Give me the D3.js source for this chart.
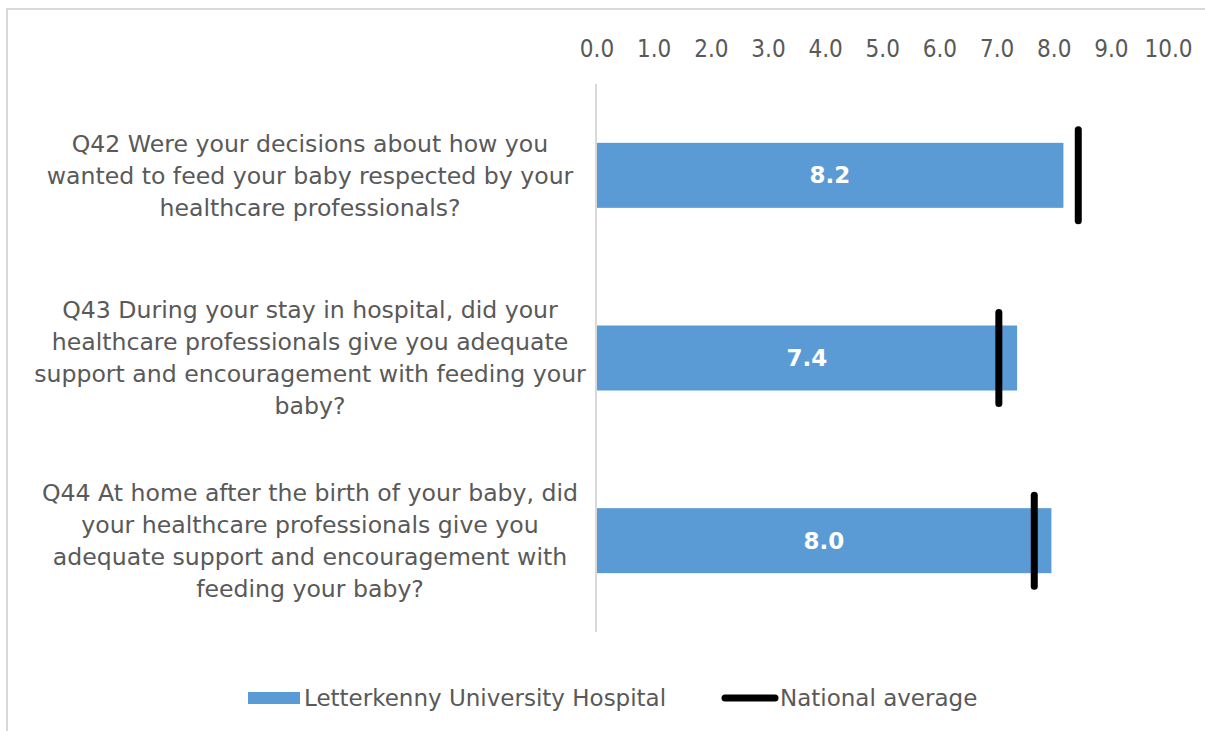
<!DOCTYPE html>
<html>
<head>
    <meta charset="utf-8" />
    <title>Feeding questions</title>
    <script type="text/javascript" src="https://cdn.jsdelivr.net/npm/d3@7"></script>
    <style>
        body { margin: 0; background: #fff; }
        text { font-family: "DejaVu Sans", sans-serif; fill: #595959; }
        .tick text { font-family: "DejaVu Sans Condensed", "DejaVu Sans", sans-serif; }
    </style>
</head>
<body>
    <svg width="1205" height="731"></svg>
    <script>

        var questions = [
            ["Q42 Were your decisions about how you", "wanted to feed your baby respected by your", "healthcare professionals?"],
            ["Q43 During your stay in hospital, did your", "healthcare professionals give you adequate", "support and encouragement with feeding your", "baby?"],
            ["Q44 At home after the birth of your baby, did", "your healthcare professionals give you", "adequate support and encouragement with", "feeding your baby?"]
        ];
        var hospital = [8.17, 7.36, 7.96];
        var national = [8.43, 7.04, 7.66];
        var ticks = [0, 1, 2, 3, 4, 5, 6, 7, 8, 9, 10];
        var seriesNames = ["Letterkenny University Hospital", "National average"];

        var svg = d3.select("svg");

        // chart border (only top and left show in the frame)
        svg.append("rect")
            .attr("x", 7).attr("y", 9)
            .attr("width", 1220).attr("height", 740)
            .attr("fill", "none")
            .attr("stroke", "#d9d9d9")
            .attr("stroke-width", 2);

        var x = d3.scaleLinear().domain([0, 10]).range([596.5, 1168]);
        var y = d3.scaleBand()
            .domain(d3.range(questions.length))
            .range([84, 632])
            .paddingInner(0.644)
            .paddingOuter(0.322);

        // top axis labels
        var xAxis = d3.axisTop(x)
            .tickValues(ticks)
            .tickFormat(d3.format(".1f"))
            .tickSize(0)
            .tickPadding(0);
        var gx = svg.append("g")
            .attr("transform", "translate(0,57)")
            .call(xAxis);
        gx.select(".domain").remove();
        gx.attr("font-family", null);
        gx.selectAll("text")
            .attr("font-size", 24)
            .attr("fill", "#595959")
            .attr("dy", 0);

        // vertical category axis line
        svg.append("line")
            .attr("x1", x(0) - 0.5).attr("x2", x(0) - 0.5)
            .attr("y1", 84).attr("y2", 632)
            .attr("stroke", "#d9d9d9")
            .attr("stroke-width", 2);

        // bars
        svg.append("g").selectAll("rect")
            .data(hospital)
            .enter()
            .append("rect")
            .attr("x", x(0) + 0.5)
            .attr("y", function (d, i) { return y(i); })
            .attr("width", function (d) { return x(d) - x(0) - 0.5; })
            .attr("height", y.bandwidth())
            .attr("fill", "#5b9bd5");

        svg.append("g").selectAll("text")
            .data(hospital)
            .enter()
            .append("text")
            .attr("x", function (d) { return (x(0) + x(d)) / 2; })
            .attr("y", function (d, i) { return y(i) + y.bandwidth() / 2; })
            .attr("dy", "0.35em")
            .attr("text-anchor", "middle")
            .attr("font-size", 23)
            .attr("font-weight", "bold")
            .style("fill", "#fff")
            .text(function (d) { return d.toFixed(1); });

        // national average markers
        svg.append("g").selectAll("line")
            .data(national)
            .enter()
            .append("line")
            .attr("x1", function (d) { return x(d); })
            .attr("x2", function (d) { return x(d); })
            .attr("y1", function (d, i) { return y(i) + y.bandwidth() / 2 - 45.5; })
            .attr("y2", function (d, i) { return y(i) + y.bandwidth() / 2 + 45.5; })
            .attr("stroke", "#000")
            .attr("stroke-width", 7)
            .attr("stroke-linecap", "round");

        // category labels
        var lineH = 32;
        var cats = svg.append("g").selectAll("text")
            .data(questions)
            .enter()
            .append("text")
            .attr("text-anchor", "middle")
            .attr("font-size", 23.6)
            .attr("y", function (d, i) { return y(i) + y.bandwidth() / 2 - (d.length - 1) * lineH / 2; });
        cats.selectAll("tspan")
            .data(function (d) { return d; })
            .enter()
            .append("tspan")
            .attr("x", 310)
            .attr("dy", function (d, j) { return j === 0 ? "0.35em" : lineH; })
            .text(function (d) { return d; });

        // legend
        var legend = svg.append("g");
        legend.append("rect")
            .attr("x", 248).attr("y", 692)
            .attr("width", 52).attr("height", 12)
            .attr("fill", "#5b9bd5");
        legend.append("text")
            .attr("x", 304).attr("y", 698)
            .attr("dy", "0.35em")
            .attr("font-size", 23)
            .text(seriesNames[0]);
        legend.append("line")
            .attr("x1", 725).attr("x2", 775)
            .attr("y1", 698).attr("y2", 698)
            .attr("stroke", "#000")
            .attr("stroke-width", 7)
            .attr("stroke-linecap", "round");
        legend.append("text")
            .attr("x", 780).attr("y", 698)
            .attr("dy", "0.35em")
            .attr("font-size", 23)
            .text(seriesNames[1]);

    </script>
</body>
</html>
